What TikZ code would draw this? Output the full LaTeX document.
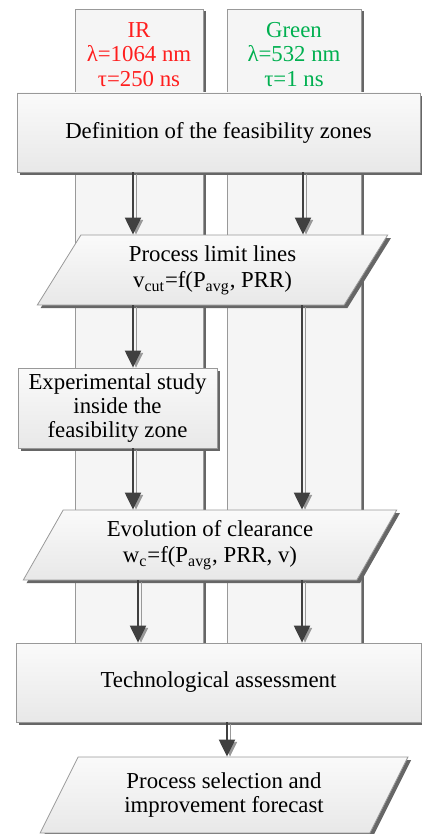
\documentclass[tikz,border=0pt]{standalone}
\usepackage{fontspec}
\setmainfont{Liberation Serif}
\usetikzlibrary{shadows,shapes.geometric,arrows.meta,positioning}
\definecolor{irred}{RGB}{255,30,30}
\definecolor{greenlaser}{RGB}{0,176,80}
\tikzstyle{zone}=[draw=black!40, fill=black!4, anchor=north, minimum height=335.5pt, drop shadow={shadow xshift=1.5pt, shadow yshift=-1pt, fill=black!60, opacity=1}]
\tikzstyle{zonelabel}=[align=center, inner sep=0pt]
\tikzstyle{box}=[draw=black!40, top color=black!2, bottom color=black!9, align=center, inner sep=2pt, drop shadow={shadow xshift=1.6pt, shadow yshift=-1.6pt, fill=black!60, opacity=1}]
\tikzstyle{slanted}=[box, trapezium, trapezium left angle=63, trapezium right angle=117, trapezium stretches=true]
\tikzstyle{flow}=[draw=black!75, line width=1.1pt, -{Triangle[length=8.5pt,width=8pt]}, preaction={draw=black!40, transform canvas={shift={(1.5pt,-0.8pt)}}}]

\begin{document}
\begin{tikzpicture}[x=0.5pt, y=-0.5pt, font=\fontsize{11.4}{12.2}\selectfont]
    \useasboundingbox (0,0) rectangle (422,834);
    % the two laser columns behind everything
    \foreach \pos/\name/\colwidth in {{(139,9)/irzone/64pt}, {(294,9)/greenzone/67pt}}
        \node[zone, minimum width=\colwidth] (\name) at \pos {};

    \node[zonelabel, text=irred, below=6.5pt of irzone.north] (irlabel) {IR\\ λ=1064 nm\\ τ=250 ns};
    \node[zonelabel, text=greenlaser, below=6.5pt of greenzone.north] (greenlabel) {Green\\ λ=532 nm\\ τ=1 ns};

    % steps of the method
    \node[box, minimum width=201.5pt, minimum height=39.5pt] (defzones) at (218.5,132.5) {Definition of the feasibility zones};
    \node[slanted, minimum width=175.5pt, minimum height=35pt] (limits) at (212.5,270) {Process limit lines\\[1pt] v\textsubscript{cut}=f(P\textsubscript{avg}, PRR)};
    \node[box, minimum width=99.5pt, minimum height=40pt] (expstudy) at (117.5,408) {Experimental study\\ inside the\\ feasibility zone};
    \node[slanted, minimum width=187pt, minimum height=35pt] (clearance) at (210,545) {Evolution of clearance\\[1pt] w\textsubscript{c}=f(P\textsubscript{avg}, PRR, v)};
    \node[box, minimum width=202.5pt, minimum height=39.5pt] (assess) at (218.5,682.5) {Technological assessment};
    \node[slanted, minimum width=184pt, minimum height=38pt] (selection) at (224,795) {Process selection and\\ improvement forecast};

    % Connect the steps
    \foreach \source/\dest/\xpos in {defzones/limits/133, defzones/limits/303, limits/expstudy/133, expstudy/clearance/133, limits/clearance/302, clearance/assess/138, clearance/assess/302, assess/selection/227}
        \draw[flow] (\source.south -| \xpos,0) -- (\dest.north -| \xpos,0);
\end{tikzpicture}
\end{document}
